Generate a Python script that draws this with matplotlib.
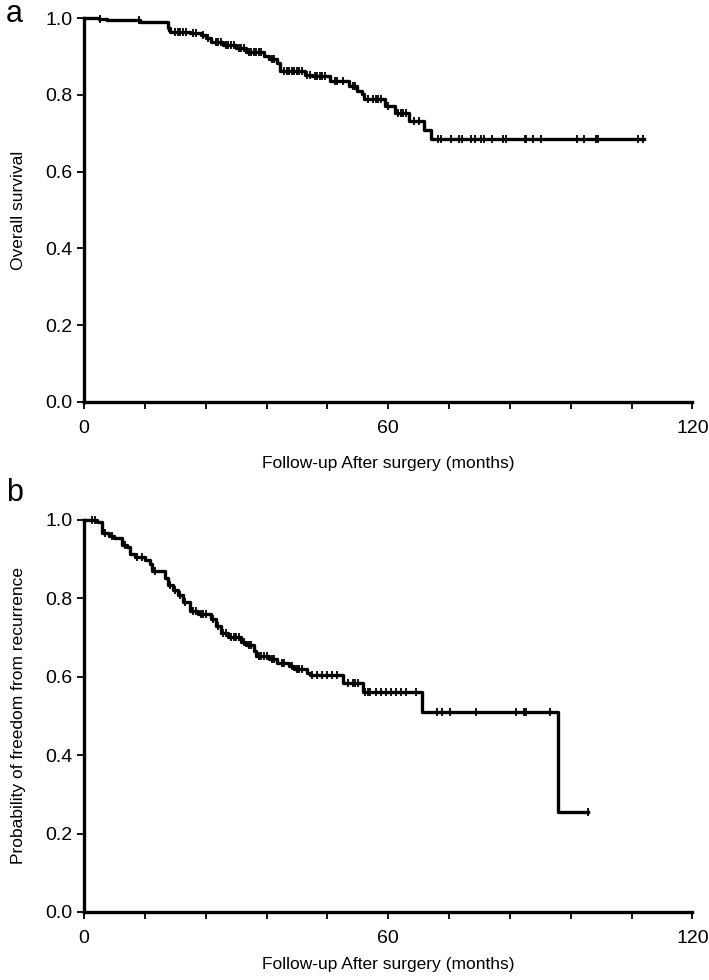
import numpy as np
import matplotlib.pyplot as plt

plt.rcParams['font.family'] = ['Liberation Sans', 'DejaVu Sans']

# panel a : overall survival (step times in months, survival after step)
os_t = [0, 3.0, 4.5, 11.0, 16.5, 17.0, 21.0, 23.0, 24.0, 25.0, 27.5, 30.0, 32.0,
        35.5, 36.5, 38.0, 38.6, 43.5, 45.0, 48.6, 52.3, 53.9, 54.9, 55.3, 59.4,
        61.4, 64.1, 67.1, 68.4]
os_s = [1.0, 0.997, 0.995, 0.990, 0.975, 0.965, 0.960, 0.955, 0.948, 0.938, 0.931,
        0.922, 0.911, 0.902, 0.893, 0.883, 0.861, 0.853, 0.848, 0.835, 0.824, 0.811,
        0.802, 0.789, 0.770, 0.752, 0.731, 0.709, 0.685]
os_end = 110.4
os_cens = [3.1, 10.8, 16.8, 18, 18.5, 19, 19.6, 20.2, 21.5, 22, 23.5, 24.5, 26, 26.5,
           27, 28, 28.5, 29, 29.5, 30.5, 31, 31.5, 32.5, 33, 33.5, 34, 34.5, 35, 37,
           37.5, 39.5, 40, 40.5, 41, 41.5, 42, 42.5, 43, 44, 44.5, 45.5, 46, 46.5, 47,
           47.5, 49.5, 50, 51, 53, 53.5, 56, 57, 57.5, 58, 58.5, 60, 62, 62.5, 63,
           63.5, 65, 66, 69.8, 70.5, 72.3, 73.9, 74.6, 76.4, 77.1, 78.4, 79, 80.5,
           82.7, 83.3, 86.9, 87.2, 88.6, 90.2, 97.2, 98.7, 101, 101.3, 109.3, 110.2]

# panel b : freedom from recurrence
rf_t = [0, 2.6, 3.6, 5.0, 6.0, 7.5, 8.5, 9.0, 10.0, 12.0, 13.0, 13.4, 16.0, 16.5,
        17.5, 18.5, 19.5, 20.9, 22.5, 25.0, 26.0, 27.0, 28.5, 31.0, 32.0, 33.5,
        34.0, 36.5, 38.0, 40.5, 41.5, 44.0, 44.5, 51.0, 55.0, 66.7, 93.5]
rf_s = [1.0, 0.996, 0.967, 0.958, 0.954, 0.936, 0.931, 0.914, 0.905, 0.898, 0.888,
        0.870, 0.853, 0.835, 0.822, 0.808, 0.791, 0.769, 0.760, 0.747, 0.730, 0.712,
        0.702, 0.689, 0.680, 0.667, 0.654, 0.645, 0.634, 0.627, 0.621, 0.610, 0.604,
        0.583, 0.560, 0.510, 0.255]
rf_end = 99.5
rf_cens = [1.5, 2.2, 4.2, 5.5, 8, 10.5, 11.5, 14, 17, 18, 19, 20, 21.5, 22, 23, 23.5,
           24, 25.5, 26.5, 27.5, 28, 29, 29.5, 30, 30.5, 31.5, 32.5, 33, 34.5, 35,
           35.5, 36, 37, 37.5, 39, 39.5, 41, 42, 42.5, 43, 45, 46, 47, 48, 49, 50,
           52, 53, 53.5, 54, 55.5, 56, 56.5, 57.5, 58.5, 59.5, 60.5, 61.5, 62.5,
           63.5, 65.5, 69.7, 70.7, 72.1, 77.4, 85.2, 86.8, 87.2, 91.9, 99.4]

xlab = "Follow-up After surgery (months)"


def km(ax, t, s, t_end, cens, ylabel, letter, xpad, ly):
    t = np.array(t + [t_end])
    s = np.array(s + [s[-1]])
    ax.step(t, s, where='post', color='black', lw=2.4, clip_on=False, zorder=3)
    cens = np.array(cens)
    idx = np.searchsorted(t, cens, side='right') - 1
    ax.plot(cens, s[idx], ls='none', marker='|', ms=5.5, mew=1.3, color='black',
            clip_on=False, zorder=4)
    ax.set_xlim(0, 120)
    ax.set_ylim(0, 1.0)
    ax.set_xticks([0, 60, 120])
    ax.set_xticks(np.arange(0, 121, 12), minor=True)
    ax.set_yticks(np.arange(0, 1.01, 0.2))
    ax.set_yticklabels(['%.1f' % v for v in np.arange(0, 1.01, 0.2)])
    for sp in ['top', 'right']:
        ax.spines[sp].set_visible(False)
    for sp in ['left', 'bottom']:
        ax.spines[sp].set_linewidth(2.4)
    ax.tick_params(axis='both', which='major', length=5, width=1.3, labelsize=14,
                   direction='out')
    ax.tick_params(axis='x', which='minor', length=5, width=1.3)
    ax.tick_params(axis='x', pad=8)
    ax.set_xlabel(xlab, fontsize=12.5, labelpad=xpad)
    ax.set_ylabel(ylabel, fontsize=12.5, labelpad=14)
    ax.text(-0.128, ly, letter, transform=ax.transAxes, fontsize=22, va='center')


fig = plt.figure(figsize=(7.09, 9.8), dpi=100)
ax1 = fig.add_axes([0.1185, 0.59, 0.858, 0.3915])
ax2 = fig.add_axes([0.1185, 0.0694, 0.858, 0.40])

km(ax1, os_t, os_s, os_end, os_cens, "Overall survival", "a", 14, 1.012)
km(ax2, rf_t, rf_s, rf_end, rf_cens, "Probability of freedom from recurrence", "b", 7, 1.07)

fig.savefig("out.png", dpi=100)
